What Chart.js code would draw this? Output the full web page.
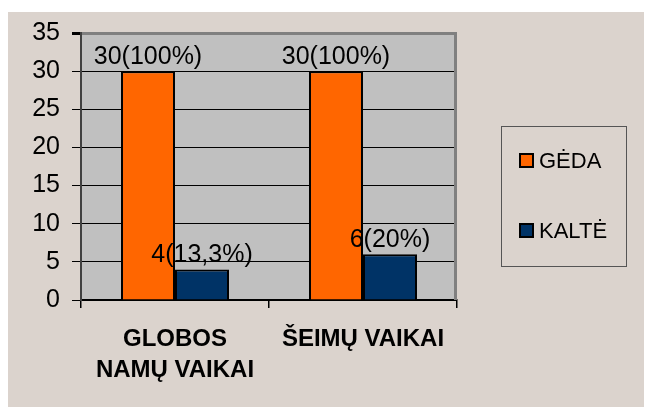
<!DOCTYPE html>
<html>
<head>
<meta charset="utf-8">
<script src="https://cdn.jsdelivr.net/npm/chart.js@4/dist/chart.umd.min.js"></script>
<style>
    html, body { margin: 0; padding: 0; background: #fff; }
    #wrap { width: 645px; height: 407px; }
</style>
</head>
<body>
<div id="wrap"><canvas id="c" width="645" height="407"></canvas></div>
<script>
// ───── DATA ─────
const KATEGORIJOS  = [["GLOBOS", "NAMŲ VAIKAI"], "ŠEIMŲ VAIKAI"];
const GEDA         = [30, 30];
const KALTE        = [4, 6];
const GEDA_ZYMES   = ["30(100%)", "30(100%)"];
const KALTE_ZYMES  = ["4(13,3%)", "6(20%)"];
const Y_MIN = 0, Y_MAX = 35, Y_STEP = 5;

const SERIJOS = [
    { label: "GĖDA",  data: GEDA,  color: "#ff6600", zymes: GEDA_ZYMES  },
    { label: "KALTĖ", data: KALTE, color: "#003366", zymes: KALTE_ZYMES },
];

const FONT = "'Liberation Sans', Arial, sans-serif";

// fonas + pilkas braižymo plotas
const fonasPlugin = {
    id: "fonas",
    beforeDraw(chart) {
        const { ctx, chartArea: a } = chart;
        ctx.save();
        ctx.fillStyle = "#ffffff";
        ctx.fillRect(0, 0, chart.width, chart.height);
        ctx.fillStyle = "#dbd3cd";
        ctx.fillRect(8, 12, chart.width - 9, chart.height - 12);
        ctx.fillStyle = "#c0c0c0";
        ctx.fillRect(a.left, a.top, a.right - a.left, a.bottom - a.top);
        ctx.restore();
    },
    afterDraw(chart) {
        const { ctx, chartArea: a } = chart;
        ctx.save();
        // dešinysis rėmelis
        ctx.strokeStyle = "#808080";
        ctx.lineWidth = 3;
        ctx.beginPath();
        ctx.moveTo(a.right - 1.5, a.top);
        ctx.lineTo(a.right - 1.5, a.bottom);
        ctx.stroke();

        // legenda
        ctx.lineWidth = 1;
        ctx.strokeStyle = "#555";
        ctx.strokeRect(501.5, 126.5, 125, 140);
        ctx.font = "22px " + FONT;
        ctx.textBaseline = "middle";
        ctx.textAlign = "left";
        const eil = [161, 231];
        chart.data.datasets.forEach((ds, i) => {
            const y = eil[i];
            ctx.fillStyle = ds.backgroundColor;
            ctx.fillRect(519, y - 8, 15, 15);
            ctx.lineWidth = 2;
            ctx.strokeStyle = "#000";
            ctx.strokeRect(520, y - 7, 13, 13);
            ctx.fillStyle = "#000";
            ctx.fillText(ds.label, 539, y + 1);
        });
        ctx.restore();
    }
};

// reikšmių žymės virš stulpelių
const zymesPlugin = {
    id: "zymes",
    afterDatasetsDraw(chart) {
        const { ctx } = chart;
        ctx.save();
        ctx.font = "25px " + FONT;
        ctx.fillStyle = "#000";
        ctx.textAlign = "center";
        ctx.textBaseline = "middle";
        SERIJOS.forEach((s, di) => {
            chart.getDatasetMeta(di).data.forEach((bar, i) => {
                ctx.fillText(s.zymes[i], bar.x, bar.y - 14);
            });
        });
        ctx.restore();
    }
};

new Chart(document.getElementById("c").getContext("2d"), {
    type: "bar",
    data: {
        labels: KATEGORIJOS,
        datasets: SERIJOS.map(s => ({
            label: s.label,
            data: s.data,
            backgroundColor: s.color,
            borderColor: "#000",
            borderWidth: 2,
            categoryPercentage: 0.5745,
            barPercentage: 1,
        }))
    },
    options: {
        responsive: false,
        animation: false,
        layout: { padding: { left: 8, top: 33, right: 188, bottom: 0 } },
        plugins: {
            legend: { display: false },
            tooltip: { enabled: false },
        },
        scales: {
            x: {
                grid: { drawOnChartArea: false, drawTicks: true, tickLength: 8, color: "#000", lineWidth: 1.5, offset: true },
                border: { color: "#000", width: 2 },
                ticks: { color: "#000", padding: 16, font: { family: FONT, size: 24, weight: "bold", lineHeight: 1.3 }, maxRotation: 0, autoSkip: false },
                afterFit: s => { s.height = 107; },
            },
            y: {
                min: Y_MIN, max: Y_MAX,
                grid: {
                    color: c => c.tick && c.tick.value === Y_MAX ? "#808080" : "#000",
                    lineWidth: c => c.tick && c.tick.value === Y_MAX ? 3 : 1,
                    tickColor: "#000",
                    tickLength: 9,
                },
                border: { color: "#404040", width: 2 },
                ticks: { stepSize: Y_STEP, color: "#000", padding: 12, font: { family: FONT, size: 25 } },
                afterFit: s => { s.width = 73; },
            }
        }
    },
    plugins: [fonasPlugin, zymesPlugin]
});
</script>
</body>
</html>
